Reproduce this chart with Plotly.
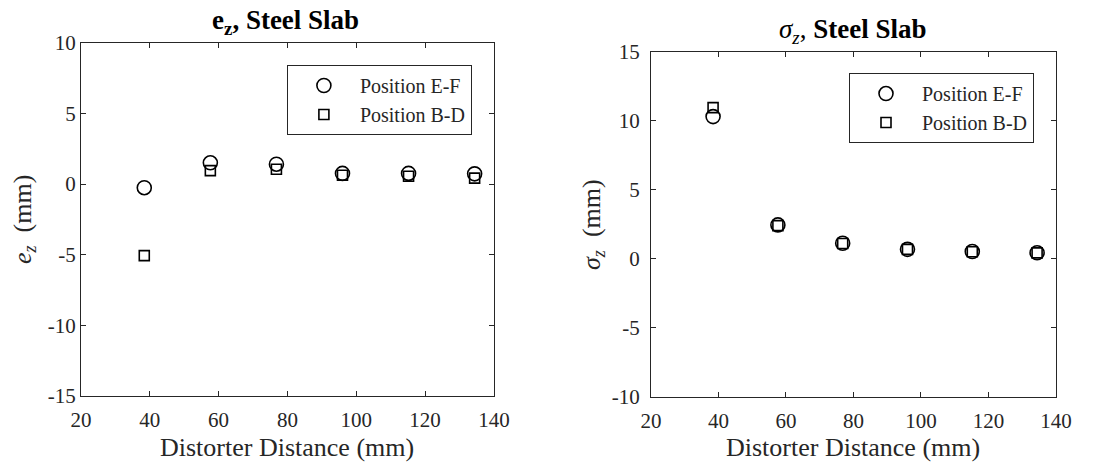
import plotly.graph_objects as go

distance = [38.4, 57.6, 76.8, 96.0, 115.2, 134.4]
ez_ef = [-0.26, 1.5, 1.4, 0.75, 0.75, 0.72]
ez_bd = [-5.07, 0.95, 1.05, 0.62, 0.55, 0.42]
sz_ef = [10.3, 2.45, 1.12, 0.68, 0.52, 0.43]
sz_bd = [10.95, 2.4, 1.1, 0.68, 0.5, 0.42]

xticks = [20, 40, 60, 80, 100, 120, 140]
ez_ticks = [-15, -10, -5, 0, 5, 10]
sz_ticks = [-10, -5, 0, 5, 10, 15]

FONT = "Liberation Serif"
TXT = "#262626"
circle = dict(symbol="circle-open", size=14, color="black", line=dict(width=1.6, color="black"))
square = dict(symbol="square-open", size=10, color="black", line=dict(width=1.6, color="black"))

fig = go.Figure()
fig.add_trace(go.Scatter(x=distance, y=ez_ef, mode="markers", marker=circle, name="Position E-F",
                         xaxis="x", yaxis="y", legend="legend"))
fig.add_trace(go.Scatter(x=distance, y=ez_bd, mode="markers", marker=square, name="Position B-D",
                         xaxis="x", yaxis="y", legend="legend"))
fig.add_trace(go.Scatter(x=distance, y=sz_ef, mode="markers", marker=circle, name="Position E-F",
                         xaxis="x2", yaxis="y2", legend="legend2"))
fig.add_trace(go.Scatter(x=distance, y=sz_bd, mode="markers", marker=square, name="Position B-D",
                         xaxis="x2", yaxis="y2", legend="legend2"))

axis_common = dict(showgrid=False, zeroline=False, showline=True, linecolor=TXT, linewidth=1,
                   mirror="ticks", ticks="inside", ticklen=5, tickcolor=TXT, automargin=False,
                   tickfont=dict(family=FONT, size=21, color=TXT))

def labels(vals):
    return [str(v) for v in vals]

legend_common = dict(xanchor="right", yanchor="top", bordercolor=TXT, borderwidth=1,
                     bgcolor="white", font=dict(family=FONT, size=20, color=TXT), itemwidth=62,
                     tracegroupgap=0)

fig.update_layout(
    template="none",
    width=1100, height=463,
    margin=dict(l=0, r=0, t=0, b=0, pad=0),
    paper_bgcolor="white", plot_bgcolor="white",
    font=dict(family=FONT, color=TXT),
    xaxis=dict(domain=[0.0736, 0.449], range=[20, 140], tickvals=xticks, ticktext=labels(xticks),
               anchor="y", ticklabelstandoff=5, **axis_common),
    yaxis=dict(domain=[0.1447, 0.9078], range=[-15, 10], tickvals=ez_ticks, ticktext=labels(ez_ticks),
               anchor="x", ticklabelstandoff=0, **axis_common),
    xaxis2=dict(domain=[0.5918, 0.96], range=[20, 140], tickvals=xticks, ticktext=labels(xticks),
                anchor="y2", ticklabelstandoff=5, **axis_common),
    yaxis2=dict(domain=[0.1432, 0.8883], range=[-10, 15], tickvals=sz_ticks, ticktext=labels(sz_ticks),
                anchor="x2", ticklabelstandoff=6, **axis_common),
    legend=dict(x=0.429, y=0.8596, **legend_common),
    legend2=dict(x=0.94, y=0.8423, **legend_common),
    annotations=[
        dict(text="<b>e<sub>z</sub>, Steel Slab</b>", x=285, y=22, showarrow=False,
             font=dict(family=FONT, size=27, color="black")),
        dict(text="<i>σ<sub>z</sub></i>, <b>Steel Slab</b>", x=852, y=31, showarrow=False,
             font=dict(family=FONT, size=27, color="black")),
        dict(text="Distorter Distance (mm)", x=287, y=447, showarrow=False,
             font=dict(family=FONT, size=26, color=TXT)),
        dict(text="Distorter Distance (mm)", x=853, y=447, showarrow=False,
             font=dict(family=FONT, size=26, color=TXT)),
        dict(text="<i>e<sub>z</sub></i>  (mm)", x=24, y=220, showarrow=False, textangle=-90,
             font=dict(family=FONT, size=26, color=TXT)),
        dict(text="<i>σ<sub>z</sub></i>  (mm)", x=593, y=225, showarrow=False, textangle=-90,
             font=dict(family=FONT, size=26, color=TXT)),
    ],
)

# convert pixel positions of annotations into paper coordinates
W, H = 1100, 463
for a in fig.layout.annotations:
    a.update(xref="paper", yref="paper", x=a.x / W, y=1 - a.y / H, xanchor="center", yanchor="middle")

fig.write_html("out.html")
